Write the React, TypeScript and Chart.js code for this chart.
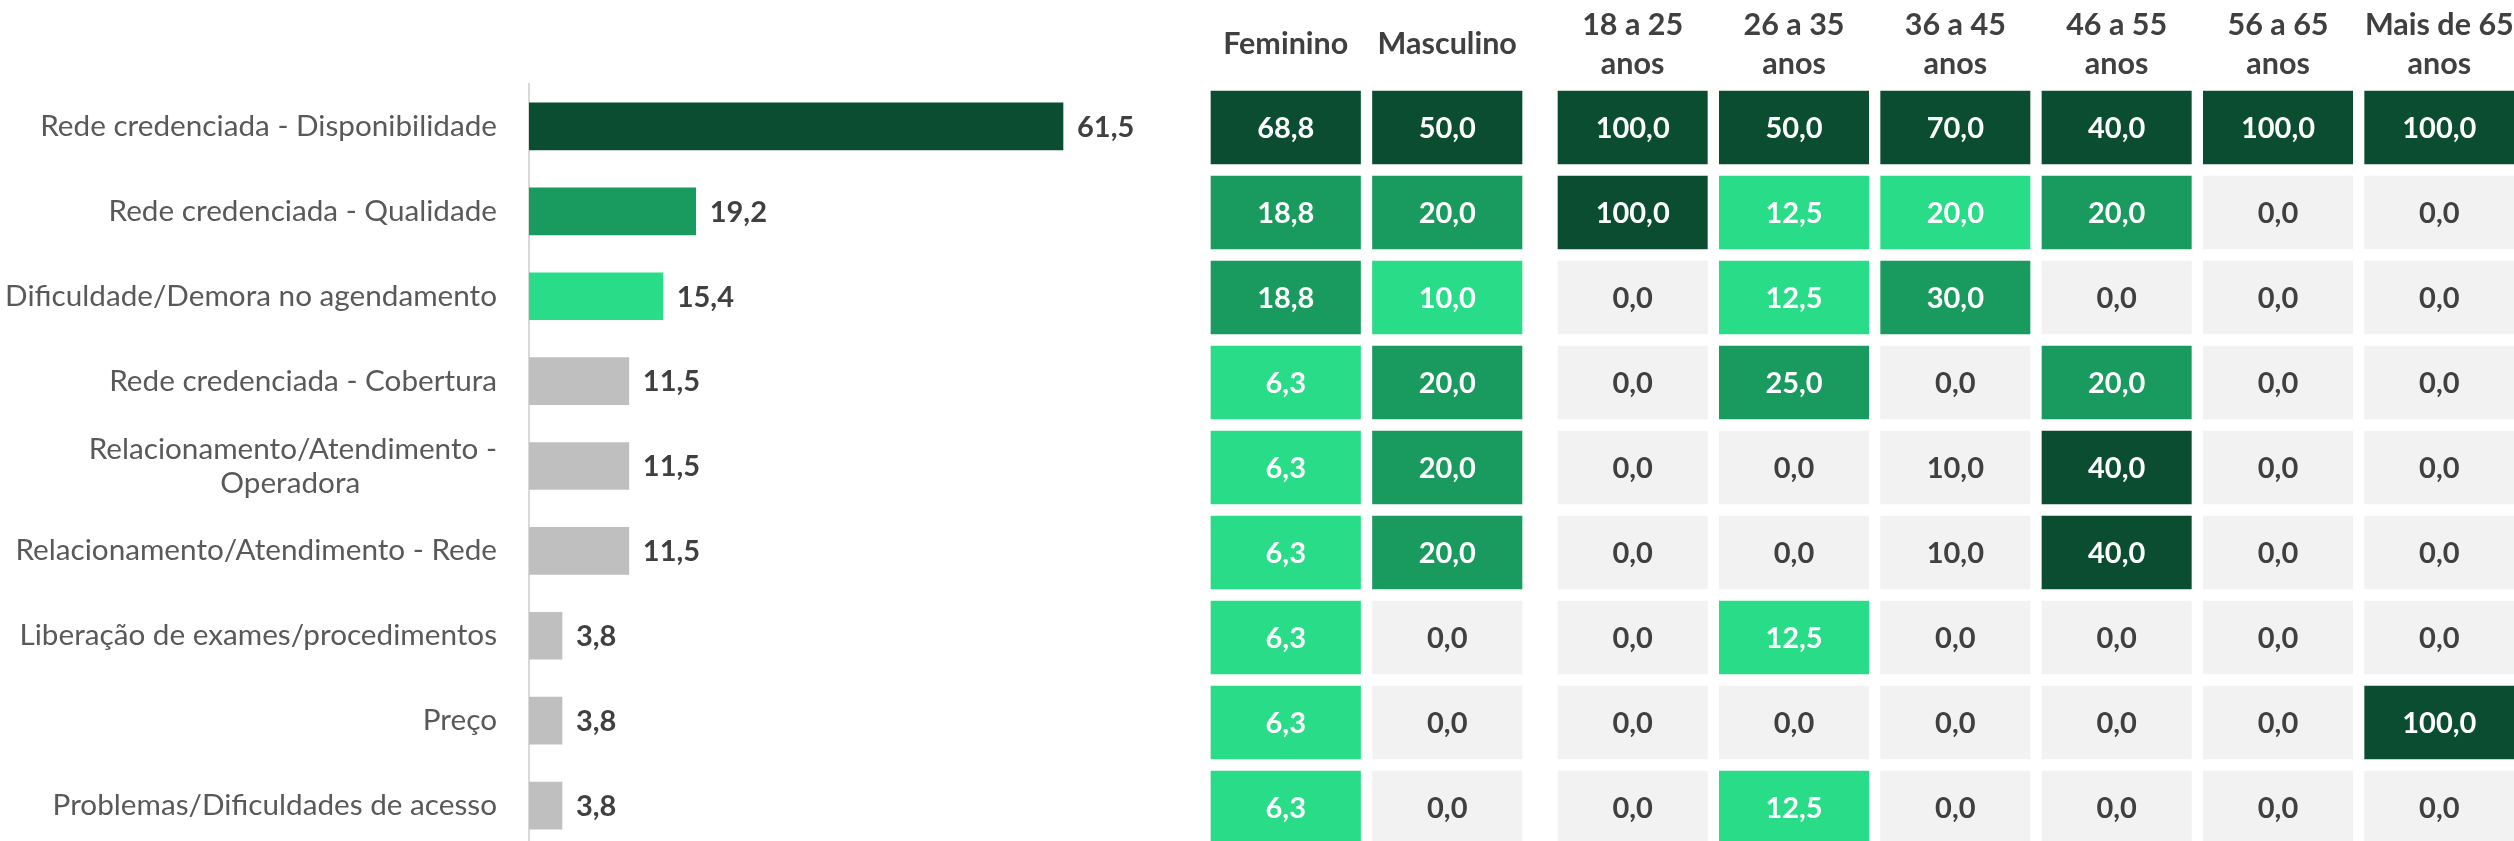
import React, { useEffect, useRef } from 'react';
import { Chart, registerables } from 'chart.js';

Chart.register(...registerables);

// ---------- DATA ----------
const reasons: (string | string[])[] = [
  'Rede credenciada - Disponibilidade',
  'Rede credenciada - Qualidade',
  'Dificuldade/Demora no agendamento',
  'Rede credenciada - Cobertura',
  ['Relacionamento/Atendimento -', 'Operadora'],
  'Relacionamento/Atendimento - Rede',
  'Liberação de exames/procedimentos',
  'Preço',
  'Problemas/Dificuldades de acesso',
];
const totals = [61.5, 19.2, 15.4, 11.5, 11.5, 11.5, 3.8, 3.8, 3.8];

const genderLabels = ['Feminino', 'Masculino'];
const feminino = [68.8, 18.8, 18.8, 6.3, 6.3, 6.3, 6.3, 6.3, 6.3];
const masculino = [50.0, 20.0, 10.0, 20.0, 20.0, 20.0, 0.0, 0.0, 0.0];

const ageLabels = [
  ['18 a 25', 'anos'],
  ['26 a 35', 'anos'],
  ['36 a 45', 'anos'],
  ['46 a 55', 'anos'],
  ['56 a 65', 'anos'],
  ['Mais de 65', 'anos'],
];
const age18to25 = [100.0, 100.0, 0.0, 0.0, 0.0, 0.0, 0.0, 0.0, 0.0];
const age26to35 = [50.0, 12.5, 12.5, 25.0, 0.0, 0.0, 12.5, 0.0, 12.5];
const age36to45 = [70.0, 20.0, 30.0, 0.0, 10.0, 10.0, 0.0, 0.0, 0.0];
const age46to55 = [40.0, 20.0, 0.0, 20.0, 40.0, 40.0, 0.0, 0.0, 0.0];
const age56to65 = [100.0, 0.0, 0.0, 0.0, 0.0, 0.0, 0.0, 0.0, 0.0];
const age65plus = [100.0, 0.0, 0.0, 0.0, 0.0, 0.0, 0.0, 100.0, 0.0];

// ---------- STYLE ----------
const FONT = "Lato, 'Noto Sans', sans-serif";
const DARK = '#0B4D30';
const MID = '#199B5F';
const LIGHT = '#29DD88';
const BAR_GREY = '#BFBFBF';
const CELL_GREY = '#F2F2F2';
const TEXT_DARK = '#404040';
const LABEL_GREY = '#595959';
const LABEL_SIZE = 29.7;
const HEADER_SIZE = 30.5;
const VALUE_SIZE = 29;

const fmt = (v: number) => v.toFixed(1).replace('.', ',');

// rank-based colour: highest distinct value dark, 2nd mid, 3rd light, others grey
function rankColors(values: number[], grey: string): string[] {
  const distinct = Array.from(new Set(values.filter((v) => v > 0))).sort((a, b) => b - a);
  const palette = [DARK, MID, LIGHT];
  return values.map((v) => {
    const r = distinct.indexOf(v);
    return v > 0 && r >= 0 && r < 3 ? palette[r] : grey;
  });
}

const ROW_PITCH = 85;

function BarChart() {
  const ref = useRef<HTMLCanvasElement>(null);
  useEffect(() => {
    const canvas = ref.current!;
    const ctx = canvas.getContext('2d')!;
    ctx.font = `${LABEL_SIZE}px ${FONT}`;
    // centre the second line of wrapped labels under the first one
    const labels = reasons.map((r) => {
      if (!Array.isArray(r)) return r;
      const w0 = ctx.measureText(r[0]).width;
      const w1 = ctx.measureText(r[1]).width;
      const sp = ctx.measureText(' ').width;
      const n = Math.max(0, Math.round((w0 - w1) / 2 / sp));
      return [r[0], r[1] + ' '.repeat(n)];
    });
    const valueLabels = {
      id: 'valueLabels',
      afterDatasetsDraw(chart: any) {
        const c = chart.ctx;
        c.save();
        c.font = `bold ${VALUE_SIZE}px ${FONT}`;
        c.fillStyle = TEXT_DARK;
        c.textAlign = 'left';
        c.textBaseline = 'middle';
        chart.getDatasetMeta(0).data.forEach((el: any, i: number) => {
          const p = el.getProps(['x', 'y'], true);
          c.fillText(fmt(totals[i]), p.x + 14, p.y + 1);
        });
        c.restore();
      },
    };
    const chart = new Chart(canvas, {
      type: 'bar',
      data: {
        labels,
        datasets: [
          {
            data: totals,
            backgroundColor: rankColors(totals, BAR_GREY),
            barThickness: 47,
          },
        ],
      },
      options: {
        indexAxis: 'y',
        animation: false,
        responsive: false,
        events: [],
        layout: { padding: { top: 84, bottom: 12, right: 23.2, left: 0 } },
        plugins: { legend: { display: false }, tooltip: { enabled: false } },
        scales: {
          x: { display: false, min: 0, max: 70 },
          y: {
            grid: { display: false, drawTicks: false },
            border: { display: true, color: '#D9D9D9', width: 2 },
            ticks: {
              font: { family: FONT, size: LABEL_SIZE, lineHeight: 1.145 },
              color: LABEL_GREY,
              padding: 32,
              autoSkip: false,
            },
            afterFit: (s: any) => {
              s.width = 529;
              s.paddingTop = 0;
              s.paddingBottom = 0;
            },
          },
        },
      },
      plugins: [valueLabels],
    });
    return () => chart.destroy();
  }, []);
  return (
    <canvas
      ref={ref}
      width={1160}
      height={860}
      style={{ position: 'absolute', left: 0, top: 0, width: 1160, height: 860 }}
    />
  );
}

function Heatmap(props: {
  columnLabels: (string | string[])[];
  columns: number[][];
  left: number;
  headerPadding: number;
}) {
  const ref = useRef<HTMLCanvasElement>(null);
  const { columnLabels, columns, left, headerPadding } = props;
  const width = Math.round(columns.length * 161.3);
  useEffect(() => {
    const canvas = ref.current!;
    const colColors = columns.map((col) => rankColors(col, CELL_GREY));
    const cellLabels = {
      id: 'cellLabels',
      afterDatasetsDraw(chart: any) {
        const c = chart.ctx;
        c.save();
        c.font = `bold ${VALUE_SIZE}px ${FONT}`;
        c.textAlign = 'center';
        c.textBaseline = 'middle';
        chart.data.datasets.forEach((_: any, ri: number) => {
          chart.getDatasetMeta(ri).data.forEach((el: any, ci: number) => {
            const p = el.getProps(['x', 'y', 'base'], true);
            const v = columns[ci][ri];
            c.fillStyle = colColors[ci][ri] === CELL_GREY ? TEXT_DARK : '#FFFFFF';
            c.fillText(fmt(v), p.x, (p.y + p.base) / 2 + 1);
          });
        });
        c.restore();
      },
    };
    const chart = new Chart(canvas, {
      type: 'bar',
      data: {
        labels: columnLabels as any,
        datasets: reasons.map((r, ri) => ({
          label: Array.isArray(r) ? r.join(' ') : r,
          // each cell spans one row unit of the stacked grid
          data: columns.map(() => 1),
          backgroundColor: colColors.map((cc) => cc[ri]),
          borderColor: '#FFFFFF',
          borderWidth: 6,
          borderSkipped: false,
          barPercentage: 1,
          categoryPercentage: 1,
        })),
      },
      options: {
        animation: false,
        responsive: false,
        events: [],
        layout: { padding: 0 },
        plugins: { legend: { display: false }, tooltip: { enabled: false } },
        scales: {
          x: {
            position: 'top',
            stacked: true,
            grid: { display: false, drawTicks: false },
            border: { display: false },
            ticks: {
              font: { family: FONT, size: HEADER_SIZE, weight: 'bold', lineHeight: 1.28 },
              color: TEXT_DARK,
              padding: headerPadding,
              crossAlign: 'center',
              maxRotation: 0,
              autoSkip: false,
            },
            afterFit: (s: any) => {
              s.height = 85;
              s.paddingLeft = 0;
              s.paddingRight = 0;
            },
          },
          y: { display: false, stacked: true, reverse: true, min: 0, max: reasons.length },
        },
      },
      plugins: [cellLabels],
    });
    return () => chart.destroy();
  }, []);
  return (
    <canvas
      ref={ref}
      width={width}
      height={85 + ROW_PITCH * 9}
      style={{ position: 'absolute', left, top: 0, width, height: 85 + ROW_PITCH * 9 }}
    />
  );
}

export default function App() {
  return (
    <div
      style={{
        position: 'fixed',
        left: 0,
        top: 0,
        width: 2514,
        height: 841,
        overflow: 'hidden',
        background: '#FFFFFF',
      }}
    >
      <BarChart />
      <Heatmap columnLabels={genderLabels} columns={[feminino, masculino]} left={1205} headerPadding={41} />
      <Heatmap
        columnLabels={ageLabels}
        columns={[age18to25, age26to35, age36to45, age46to55, age56to65, age65plus]}
        left={1552}
        headerPadding={21}
      />
    </div>
  );
}
